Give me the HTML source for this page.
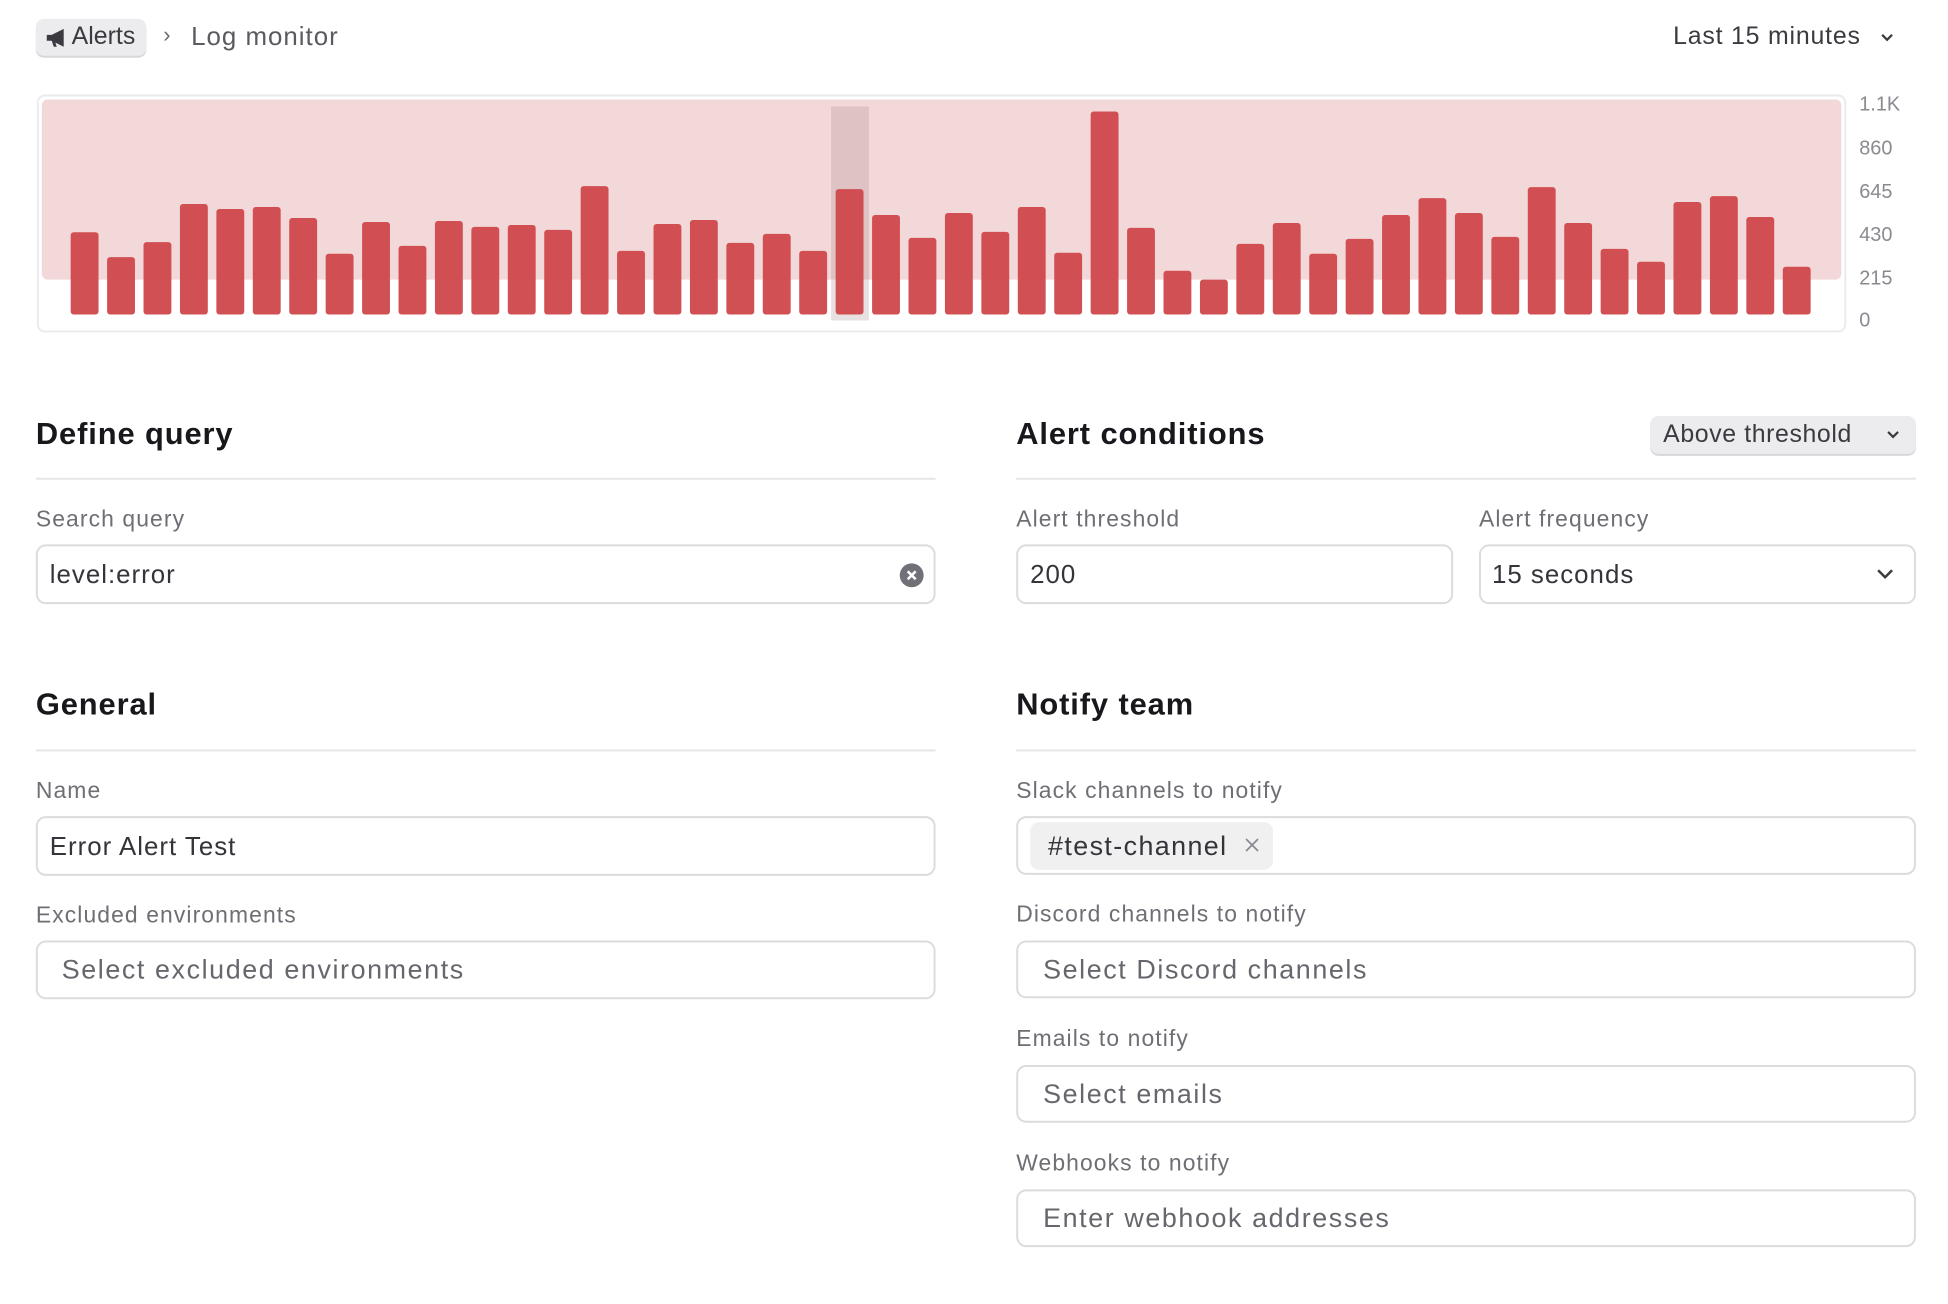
<!DOCTYPE html>
<html><head><meta charset="utf-8"><style>
*{box-sizing:border-box;margin:0;padding:0}
body{width:1948px;height:1304px;background:#fff;font-family:"Liberation Sans",sans-serif;position:relative;overflow:hidden;color:#1c1c21}
#w{position:absolute;left:0;top:0;width:1948px;height:1304px;transform:scale(0.9953);transform-origin:0 0}
.a{position:absolute;white-space:nowrap}
.h{font-size:31px;font-weight:bold;color:#17171c;letter-spacing:0.9px}
.line{position:absolute;height:2px;background:#e6e6e8}
.lbl{font-size:23px;color:#6e6e75;letter-spacing:1.1px}
.inp{position:absolute;border:2px solid #dcdcdf;border-radius:10px;background:#fff}
.val{font-size:26px;color:#34343a;letter-spacing:1px}
.ph{font-size:27px;color:#66666d;letter-spacing:1.6px}
.ax{font-size:20px;color:#8a8a90}
</style></head><body><div id="w">
<div class="a" style="left:36px;top:19px;width:111px;height:37px;background:#ececee;border-radius:8px;box-shadow:0 2px 0 #d8d8da"></div>
<svg class="a" style="left:46px;top:28px" width="22" height="20" viewBox="0 0 22 20"><path d="M1 7h5l12-6v18L6 13H1z" fill="#3a3a40"/><path d="M6 13l2 6h3l-2-6z" fill="#3a3a40"/></svg>
<div class="a" style="left:72px;top:22px;font-size:25px;color:#3a3a40">Alerts</div>
<div class="a" style="left:164px;top:22px;font-size:22px;color:#6a6a70">›</div>
<div class="a" style="left:192px;top:21px;font-size:26px;color:#5a5a60;letter-spacing:1px">Log monitor</div>
<div class="a" style="left:1681px;top:22px;font-size:25px;color:#3a3a40;letter-spacing:0.8px">Last 15 minutes</div>
<svg class="a" style="left:1888px;top:32px" width="16" height="12"><path d="M3 3l5 5 5-5" stroke="#3a3a40" stroke-width="2.2" fill="none"/></svg>

<div class="a" style="left:37px;top:95px;width:1818px;height:239px;border:2px solid #ebebed;border-radius:8px"></div>
<div class="a" style="left:42px;top:100px;width:1808px;height:181px;background:#f2d8d9;border-radius:6px"></div>
<div class="a" style="left:835px;top:107px;width:38px;height:215px;background:rgba(150,120,125,0.22)"></div>
<svg class="a" style="left:0;top:0" width="1948" height="340">
<g fill="#cf4a4d" fill-opacity="0.97">
<rect x="71" y="233.3" width="28" height="82.7" rx="3"/>
<rect x="107.6" y="258.3" width="28" height="57.7" rx="3"/>
<rect x="144.2" y="243.3" width="28" height="72.7" rx="3"/>
<rect x="180.8" y="205" width="28" height="111" rx="3"/>
<rect x="217.4" y="210" width="28" height="106" rx="3"/>
<rect x="254" y="208" width="28" height="108" rx="3"/>
<rect x="290.6" y="219" width="28" height="97" rx="3"/>
<rect x="327.2" y="255" width="28" height="61" rx="3"/>
<rect x="363.8" y="223" width="28" height="93" rx="3"/>
<rect x="400.4" y="247" width="28" height="69" rx="3"/>
<rect x="437" y="222" width="28" height="94" rx="3"/>
<rect x="473.6" y="228" width="28" height="88" rx="3"/>
<rect x="510.2" y="226" width="28" height="90" rx="3"/>
<rect x="546.8" y="231" width="28" height="85" rx="3"/>
<rect x="583.4" y="187" width="28" height="129" rx="3"/>
<rect x="620" y="252" width="28" height="64" rx="3"/>
<rect x="656.6" y="225" width="28" height="91" rx="3"/>
<rect x="693.2" y="221" width="28" height="95" rx="3"/>
<rect x="729.8" y="244" width="28" height="72" rx="3"/>
<rect x="766.4" y="235" width="28" height="81" rx="3"/>
<rect x="803" y="252" width="28" height="64" rx="3"/>
<rect x="839.6" y="190" width="28" height="126" rx="3"/>
<rect x="876.2" y="216" width="28" height="100" rx="3"/>
<rect x="912.8" y="239" width="28" height="77" rx="3"/>
<rect x="949.4" y="214" width="28" height="102" rx="3"/>
<rect x="986" y="233" width="28" height="83" rx="3"/>
<rect x="1022.6" y="208" width="28" height="108" rx="3"/>
<rect x="1059.2" y="254" width="28" height="62" rx="3"/>
<rect x="1095.8" y="112" width="28" height="204" rx="3"/>
<rect x="1132.4" y="229" width="28" height="87" rx="3"/>
<rect x="1169" y="272" width="28" height="44" rx="3"/>
<rect x="1205.6" y="281" width="28" height="35" rx="3"/>
<rect x="1242.2" y="245" width="28" height="71" rx="3"/>
<rect x="1278.8" y="224" width="28" height="92" rx="3"/>
<rect x="1315.4" y="255" width="28" height="61" rx="3"/>
<rect x="1352" y="240" width="28" height="76" rx="3"/>
<rect x="1388.6" y="216" width="28" height="100" rx="3"/>
<rect x="1425.2" y="199" width="28" height="117" rx="3"/>
<rect x="1461.8" y="214" width="28" height="102" rx="3"/>
<rect x="1498.4" y="238" width="28" height="78" rx="3"/>
<rect x="1535" y="188" width="28" height="128" rx="3"/>
<rect x="1571.6" y="224" width="28" height="92" rx="3"/>
<rect x="1608.2" y="250" width="28" height="66" rx="3"/>
<rect x="1644.8" y="263" width="28" height="53" rx="3"/>
<rect x="1681.4" y="203" width="28" height="113" rx="3"/>
<rect x="1718" y="197" width="28" height="119" rx="3"/>
<rect x="1754.6" y="218" width="28" height="98" rx="3"/>
<rect x="1791.2" y="268" width="28" height="48" rx="3"/>
</g></svg>
<div class="a ax" style="left:1868px;top:94px">1.1K</div>
<div class="a ax" style="left:1868px;top:138px">860</div>
<div class="a ax" style="left:1868px;top:182px">645</div>
<div class="a ax" style="left:1868px;top:225px">430</div>
<div class="a ax" style="left:1868px;top:269px">215</div>
<div class="a ax" style="left:1868px;top:311px">0</div>

<div class="a h" style="left:36px;top:418px">Define query</div>
<div class="line" style="left:36px;top:480px;width:904px"></div>
<div class="a h" style="left:1021px;top:418px">Alert conditions</div>
<div class="line" style="left:1021px;top:480px;width:904px"></div>
<div class="a" style="left:1658px;top:418px;width:267px;height:38px;background:#ececee;border-radius:8px;box-shadow:0 2px 0 #d8d8da"></div>
<div class="a" style="left:1671px;top:422px;font-size:25px;color:#3a3a40;letter-spacing:0.6px">Above threshold</div>
<svg class="a" style="left:1894px;top:431px" width="16" height="12"><path d="M3 3l5 5 5-5" stroke="#3a3a40" stroke-width="2.2" fill="none"/></svg>

<div class="a lbl" style="left:36px;top:508px">Search query</div>
<div class="inp" style="left:36px;top:547px;width:904px;height:60px"></div>
<div class="a val" style="left:50px;top:562px">level:error</div>
<svg class="a" style="left:903px;top:565px" width="26" height="26"><circle cx="13" cy="13" r="12" fill="#707077"/><path d="M9 9l8 8M17 9l-8 8" stroke="#fff" stroke-width="2.6"/></svg>

<div class="a lbl" style="left:1021px;top:508px">Alert threshold</div>
<div class="inp" style="left:1021px;top:547px;width:439px;height:60px"></div>
<div class="a val" style="left:1035px;top:562px">200</div>
<div class="a lbl" style="left:1486px;top:508px">Alert frequency</div>
<div class="inp" style="left:1486px;top:547px;width:439px;height:60px"></div>
<div class="a val" style="left:1499px;top:562px">15 seconds</div>
<svg class="a" style="left:1884px;top:570px" width="20" height="14"><path d="M3 3l7 7 7-7" stroke="#3a3a40" stroke-width="2.5" fill="none"/></svg>

<div class="a h" style="left:36px;top:690px">General</div>
<div class="line" style="left:36px;top:753px;width:904px"></div>
<div class="a h" style="left:1021px;top:690px">Notify team</div>
<div class="line" style="left:1021px;top:753px;width:904px"></div>

<div class="a lbl" style="left:36px;top:781px">Name</div>
<div class="inp" style="left:36px;top:820px;width:904px;height:60px"></div>
<div class="a val" style="left:50px;top:835px">Error Alert Test</div>
<div class="a lbl" style="left:36px;top:906px">Excluded environments</div>
<div class="inp" style="left:36px;top:945px;width:904px;height:59px"></div>
<div class="a ph" style="left:62px;top:959px">Select excluded environments</div>

<div class="a lbl" style="left:1021px;top:781px">Slack channels to notify</div>
<div class="inp" style="left:1021px;top:820px;width:904px;height:59px"></div>
<div class="a" style="left:1035px;top:826px;width:244px;height:48px;background:#f0f0f1;border-radius:9px"></div>
<div class="a val" style="left:1053px;top:835px;font-size:27px;letter-spacing:1.4px">#test-channel</div>
<svg class="a" style="left:1250px;top:841px" width="16" height="16"><path d="M2 2l12 12M14 2L2 14" stroke="#8a8a90" stroke-width="1.8"/></svg>
<div class="a lbl" style="left:1021px;top:905px">Discord channels to notify</div>
<div class="inp" style="left:1021px;top:945px;width:904px;height:58px"></div>
<div class="a ph" style="left:1048px;top:959px">Select Discord channels</div>
<div class="a lbl" style="left:1021px;top:1030px">Emails to notify</div>
<div class="inp" style="left:1021px;top:1070px;width:904px;height:58px"></div>
<div class="a ph" style="left:1048px;top:1084px">Select emails</div>
<div class="a lbl" style="left:1021px;top:1155px">Webhooks to notify</div>
<div class="inp" style="left:1021px;top:1195px;width:904px;height:58px"></div>
<div class="a ph" style="left:1048px;top:1209px">Enter webhook addresses</div>
</div></body></html>
